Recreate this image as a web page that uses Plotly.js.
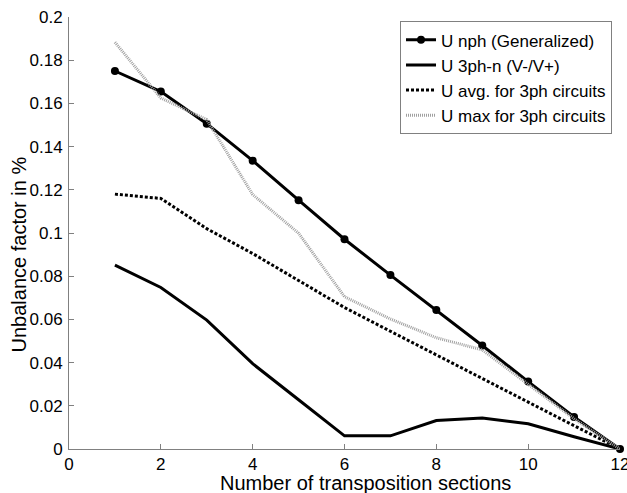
<!DOCTYPE html>
<html>
<head>
<meta charset="utf-8">
<script src="https://cdn.plot.ly/plotly-3.0.1.min.js"></script>
<style>html,body{margin:0;padding:0;background:#fff;}#chart{width:627px;height:493px;}</style>
</head>
<body>
<div id="chart"></div>
<script>
const sections = [1, 2, 3, 4, 5, 6, 7, 8, 9, 10, 11, 12];
const uNph   = [0.175, 0.1655, 0.1506, 0.1335, 0.1152, 0.0971, 0.0805, 0.0643, 0.0479, 0.0312, 0.0148, 0];
const u3phN  = [0.0851, 0.0748, 0.0597, 0.0395, 0.0228, 0.0061, 0.0061, 0.0132, 0.0143, 0.0117, 0.0057, 0];
const uAvg   = [0.118, 0.116, 0.102, 0.0905, 0.078, 0.0655, 0.0545, 0.0435, 0.0325, 0.0216, 0.0108, 0];
const uMax   = [0.1883, 0.1625, 0.1525, 0.1178, 0.0999, 0.0705, 0.0602, 0.0515, 0.0459, 0.0300, 0.0140, 0];
const xTicks = [0, 2, 4, 6, 8, 10, 12];
const yTicks = [0, 0.02, 0.04, 0.06, 0.08, 0.1, 0.12, 0.14, 0.16, 0.18, 0.2];
const yTickText = ['0', '0.02', '0.04', '0.06', '0.08', '0.1', '0.12', '0.14', '0.16', '0.18', '0.2'];
const names = ['U nph (Generalized)', 'U 3ph-n (V-/V+)', 'U avg. for 3ph circuits', 'U max for 3ph circuits'];
const xTitle = 'Number of transposition sections';
const yTitle = 'Unbalance factor in %';

const FONT = 'Liberation Sans, Arial, sans-serif';

const traces = [
  {x: sections, y: uNph, name: names[0], mode: 'lines+markers',
   line: {color: '#000', width: 3}, marker: {color: '#000', size: 8, symbol: 'circle'}},
  {x: sections, y: u3phN, name: names[1], mode: 'lines',
   line: {color: '#000', width: 3}},
  {x: sections, y: uAvg, name: names[2], mode: 'lines',
   line: {color: '#000', width: 3, dash: '3px,2px'}},
  {x: sections, y: uMax, name: names[3], mode: 'lines',
   line: {color: '#a0a0a0', width: 3, dash: '1px,1px'}}
];
traces.forEach(t => t.cliponaxis = false);

const axisCommon = {
  showline: true, linecolor: '#808080', linewidth: 1,
  ticks: 'inside', ticklen: 5, tickcolor: '#808080', tickwidth: 1,
  showgrid: false, zeroline: false, mirror: false,
  ticklabeloverflow: 'allow',
  tickfont: {family: FONT, size: 17, color: '#000'}
};

const layout = {
  width: 627, height: 493,
  margin: {l: 69, r: 7, t: 17, b: 44},
  paper_bgcolor: '#fff', plot_bgcolor: '#fff',
  showlegend: true,
  xaxis: Object.assign({}, axisCommon, {
    range: [0, 12], tickvals: xTicks, ticktext: xTicks.map(String)
  }),
  yaxis: Object.assign({}, axisCommon, {
    range: [0, 0.2], tickvals: yTicks, ticktext: yTickText,
    ticklabelstandoff: 2
  }),
  annotations: [
    {text: xTitle, xref: 'paper', yref: 'paper', x: 0.539, y: -0.0775,
     xanchor: 'center', yanchor: 'middle', showarrow: false, borderpad: 0, height: 21,
     font: {family: FONT, size: 20, color: '#000'}},
    {text: yTitle, xref: 'paper', yref: 'paper', x: -0.091, y: 0.45,
     xanchor: 'center', yanchor: 'middle', showarrow: false, textangle: -90,
     font: {family: FONT, size: 20, color: '#000'}}
  ],
  legend: {
    x: 0.9855, y: 0.99, xanchor: 'right', yanchor: 'top',
    bordercolor: '#808080', borderwidth: 1, bgcolor: '#fff',
    font: {family: FONT, size: 17, color: '#000'},
    tracegroupgap: 0, itemwidth: 30
  }
};

Plotly.newPlot('chart', traces, layout, {displayModeBar: false, staticPlot: true});
</script>
</body>
</html>
